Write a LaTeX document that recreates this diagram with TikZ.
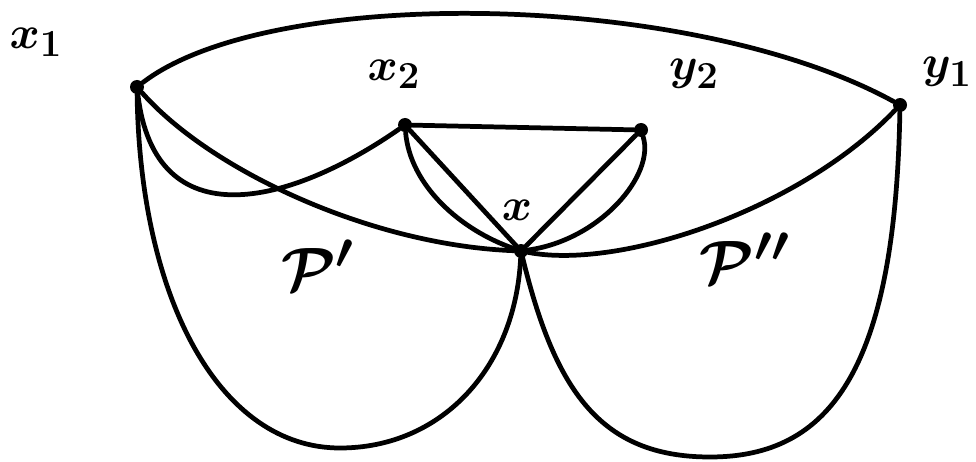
\documentclass[tikz,border=0pt]{standalone}
\usepackage{amsmath,amssymb}
\usepackage{tikz}
\usetikzlibrary{positioning,calc}
\tikzset{
  vertex/.style={circle, fill=black, minimum size=2.8mm, inner sep=0pt},
  edge/.style={line width=2.7pt, line cap=round, line join=round},
  lbl/.style={inner sep=0pt, font=\Huge\boldmath, scale=1.05},
  biglbl/.style={inner sep=0pt, font=\Huge\boldmath, scale=1.4}
}

\begin{document}
\begin{tikzpicture}[x=0.02cm,y=-0.02cm]
  \useasboundingbox (0,0) rectangle (976,462);

  % vertices
  \node[vertex] (x1) at (137,87) {};
  \node[vertex] (y1) at (900,105) {};
  \node[vertex] (x2) at (405,125) {};
  \node[vertex] (y2) at (641,130) {};
  \node[vertex] (xx) at (521,251) {};
  \coordinate (lowA) at (340,448);
  \coordinate (lowB) at (710,457);

  % labels
  \node[lbl] at (36,42) {$x_1$};
  \node[lbl] at (947,72) {$y_1$};
  \node[lbl] at (394,74) {$x_2$};
  \node[lbl] at (694,74) {$y_2$};
  \node[lbl] at (517,210) {$x$};
  \node[biglbl] at (318,265) {$\mathcal{P}'$};
  \node[biglbl] at (745,258) {$\mathcal{P}''$};

  % paths
  \draw[edge] (x1) .. controls (270,-15) and (690,-10) .. (y1);
  \draw[edge] (x2) -- (y2);
  \draw[edge] (x2) -- (xx);
  \draw[edge] (x2) .. controls (410,185) and (460,230) .. (xx);
  \draw[edge] (y2) -- (xx);
  \draw[edge] (y2) .. controls (655,175) and (600,240) .. (xx);
  \draw[edge] (x1) .. controls (210,170) and (370,245) .. (xx);
  \draw[edge] (x1) .. controls (155,240) and (290,205) .. (x2);
  \draw[edge] (xx) .. controls (620,270) and (800,210) .. (y1);
  \draw[edge] (x1) .. controls (140,300) and (220,448) .. (lowA)
    .. controls (440,448) and (515,370) .. (xx);
  \draw[edge] (xx) .. controls (555,390) and (600,457) .. (lowB)
    .. controls (830,457) and (895,370) .. (y1);
\end{tikzpicture}
\end{document}
